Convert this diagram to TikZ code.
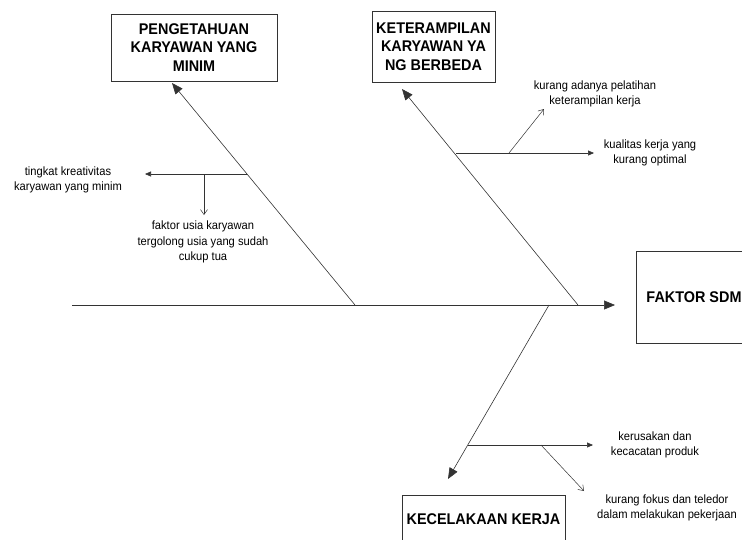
\documentclass[tikz,border=0pt]{standalone}
\usepackage{fontspec}
\setmainfont{Liberation Sans}[FakeStretch=0.93]
\usetikzlibrary{arrows.meta}
\usetikzlibrary{positioning}

\begin{document}
\begin{tikzpicture}[x=1pt, y=-1pt]
    \tikzset{ hd/.style  ={draw=black!80, line width=0.8pt, align=center, inner sep=0pt, font=\bfseries\fontsize{15.5}{18.5}\selectfont} }
    \tikzset{ txt/.style ={align=center, inner sep=0pt, font=\fontsize{12}{15.5}\selectfont} }
    \tikzset{ bone/.style={draw=black!80, line width=0.6pt, -{Triangle[length=11pt, width=9pt]}} }
    \tikzset{ rib/.style ={draw=black!80, line width=0.6pt, -{Triangle[length=6pt, width=5pt]}} }
    \tikzset{ twig/.style={draw=black!80, line width=0.5pt, -{Straight Barb[length=5pt, width=7pt]}} }

    \useasboundingbox (0,0) rectangle (742,539);
    \clip (0,0) rectangle (742,539);

    % kepala dan tulang kategori
    \node[hd, minimum width=166pt, minimum height=67pt] (pengetahuan) at (194,47.5)  {PENGETAHUAN\\KARYAWAN YANG\\MINIM};
    \node[hd, minimum width=123pt, minimum height=71pt] (keterampilan) at (433.5,46.5) {KETERAMPILAN\\KARYAWAN YA\\NG BERBEDA};
    \node[hd, minimum width=116pt, minimum height=92pt] (sdm)          at (694,297)   {FAKTOR SDM};
    \node[hd, minimum width=163pt, minimum height=48pt] (kecelakaan)   at (483.5,519) {KECELAKAAN KERJA};

    \coordinate (sp0) at (72,305);
    \coordinate (sp1) at (615,305);
    \coordinate (b1a) at (355,305);
    \coordinate (b1b) at (172,83);
    \coordinate (b2a) at (578,305);
    \coordinate (b2b) at (402,89);
    \coordinate (b3a) at (549,305);
    \coordinate (b3b) at (448,479);

    \coordinate (r1a) at (247,174);
    \coordinate (r1b) at (145,174);
    \coordinate (t1a) at (204,174);
    \coordinate (t1b) at (204,215);
    \coordinate (r2a) at (456,153);
    \coordinate (r2b) at (594,153);
    \coordinate (t2a) at (509,153);
    \coordinate (t2b) at (544,109);
    \coordinate (r3a) at (468,445);
    \coordinate (r3b) at (593,445);
    \coordinate (t3a) at (541,445);
    \coordinate (t3b) at (584,491);

    % penyebab
    \node[txt] (kreativitas) at (68,180)  {tingkat kreativitas\\karyawan yang minim};
    \node[txt] (usia)        at (203,242) {faktor usia karyawan\\tergolong usia yang sudah\\cukup tua};
    \node[txt] (pelatihan)   at (595,94)  {kurang adanya pelatihan\\keterampilan kerja};
    \node[txt] (kualitas)    at (650,153) {kualitas kerja yang\\kurang optimal};
    \node[txt] (kerusakan)   at (655,445) {kerusakan dan\\kecacatan produk};
    \node[txt] (fokus)       at (667,508) {kurang fokus dan teledor\\dalam melakukan pekerjaan};

    \draw[bone] (sp0) -- (sp1);
    \draw[bone] (b1a) -- (b1b);
    \draw[bone] (b2a) -- (b2b);
    \draw[bone] (b3a) -- (b3b);

    \draw[rib ] (r1a) -- (r1b);
    \draw[twig] (t1a) -- (t1b);
    \draw[rib ] (r2a) -- (r2b);
    \draw[twig] (t2a) -- (t2b);
    \draw[rib ] (r3a) -- (r3b);
    \draw[twig] (t3a) -- (t3b);
\end{tikzpicture}
\end{document}
